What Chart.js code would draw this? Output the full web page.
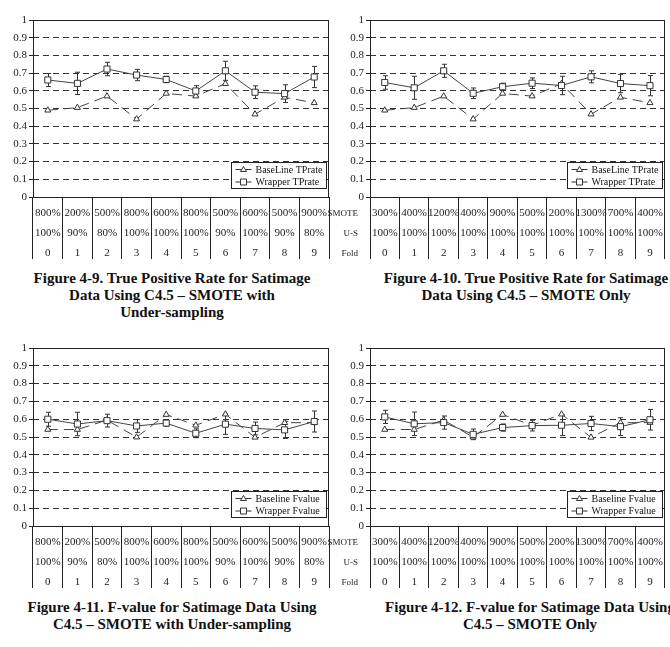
<!DOCTYPE html>
<html lang="en">
<head>
<meta charset="UTF-8">
<title>Satimage - C4.5 with SMOTE</title>
<style>
    html, body {
        margin: 0;
        padding: 0;
        background: #fff;
        overflow: hidden;
    }
    body {
        width: 670px;
        height: 647px;
        position: relative;
        font-family: "Liberation Serif", "Times New Roman", serif;
        color: #111;
    }
    .panel {
        position: absolute;
    }
    .panel canvas {
        display: block;
    }
    .caption {
        position: absolute;
        width: 380px;
        text-align: center;
        font-weight: bold;
        font-size: 15px;
        line-height: 17px;
        white-space: nowrap;
    }
    .rowlab {
        position: absolute;
        width: 40px;
        text-align: right;
        font-size: 9px;
        line-height: 10px;
        color: #222;
    }
</style>
</head>
<body>
    <div class="panel" style="left:0;top:0"><canvas id="fig9" width="335" height="263"></canvas></div>
    <div class="panel" style="left:335px;top:0"><canvas id="fig10" width="335" height="263"></canvas></div>
    <div class="panel" style="left:0;top:328px"><canvas id="fig11" width="335" height="263"></canvas></div>
    <div class="panel" style="left:335px;top:328px"><canvas id="fig12" width="335" height="263"></canvas></div>

    <div class="rowlab" style="left:318px;top:208px">SMOTE</div>
    <div class="rowlab" style="left:318px;top:228px">U-S</div>
    <div class="rowlab" style="left:318px;top:248px">Fold</div>
    <div class="rowlab" style="left:318px;top:537px">SMOTE</div>
    <div class="rowlab" style="left:318px;top:557px">U-S</div>
    <div class="rowlab" style="left:318px;top:577px">Fold</div>

    <div class="caption" style="left:-18px;top:270px">Figure 4-9. True Positive Rate for Satimage<br>Data Using C4.5 – SMOTE with<br>Under-sampling</div>
    <div class="caption" style="left:336px;top:270px">Figure 4-10. True Positive Rate for Satimage<br>Data Using C4.5 – SMOTE Only</div>
    <div class="caption" style="left:-18px;top:599px">Figure 4-11. F-value for Satimage Data Using<br>C4.5 – SMOTE with Under-sampling</div>
    <div class="caption" style="left:340px;top:599px">Figure 4-12. F-value for Satimage Data Using<br>C4.5 – SMOTE Only</div>

    <script src="https://cdn.jsdelivr.net/npm/chart.js"></script>
    <script>
        // fold table rows
        const folds = ['0', '1', '2', '3', '4', '5', '6', '7', '8', '9'];
        const smoteWithUS = ['800%', '200%', '500%', '800%', '600%', '800%', '500%', '600%', '500%', '900%'];
        const usWithUS = ['100%', '90%', '80%', '100%', '100%', '100%', '90%', '100%', '90%', '80%'];
        const smoteOnly = ['300%', '400%', '1200%', '400%', '900%', '500%', '200%', '1300%', '700%', '400%'];
        const usOnly = ['100%', '100%', '100%', '100%', '100%', '100%', '100%', '100%', '100%', '100%'];

        // TP rate
        const tpBaseline = [0.490, 0.505, 0.570, 0.440, 0.585, 0.570, 0.640, 0.468, 0.563, 0.532];
        const tpWrapperUS = [0.661, 0.642, 0.723, 0.689, 0.664, 0.599, 0.713, 0.592, 0.584, 0.678];
        const tpWrapperUSErr = [0.037, 0.063, 0.038, 0.032, 0.018, 0.030, 0.054, 0.036, 0.050, 0.060];
        const tpWrapperSO = [0.647, 0.617, 0.713, 0.586, 0.623, 0.643, 0.630, 0.679, 0.641, 0.629];
        const tpWrapperSOErr = [0.038, 0.065, 0.037, 0.030, 0.020, 0.030, 0.052, 0.034, 0.052, 0.057];

        // F-value
        const fBaseline = [0.542, 0.542, 0.595, 0.499, 0.626, 0.566, 0.628, 0.498, 0.580, 0.581];
        const fWrapperUS = [0.600, 0.573, 0.592, 0.562, 0.578, 0.521, 0.572, 0.548, 0.540, 0.587];
        const fWrapperUSErr = [0.039, 0.066, 0.036, 0.036, 0.018, 0.025, 0.057, 0.036, 0.048, 0.059];
        const fWrapperSO = [0.613, 0.574, 0.581, 0.515, 0.553, 0.564, 0.566, 0.576, 0.558, 0.597];
        const fWrapperSOErr = [0.037, 0.066, 0.037, 0.030, 0.020, 0.030, 0.058, 0.040, 0.050, 0.058];

        const yTicks = [0, 0.1, 0.2, 0.3, 0.4, 0.5, 0.6, 0.7, 0.8, 0.9, 1];

        const FONT = '"Liberation Serif", "Times New Roman", serif';
        const INK = '#333';

        // plot frame + error bars, drawn under the lines
        const frameAndBars = {
            id: 'frameAndBars',
            beforeDatasetsDraw(chart) {
                const { ctx, chartArea: a, scales: { y } } = chart;
                const L = Math.round(a.left) + 0.5, R = Math.round(a.right) - 0.5;
                const T = Math.round(a.top) + 0.5, B = Math.round(a.bottom) + 0.5;
                ctx.save();
                ctx.setLineDash([]);
                ctx.strokeStyle = '#222';
                ctx.lineWidth = 1;
                ctx.beginPath();
                ctx.moveTo(L, B); ctx.lineTo(L, T); ctx.lineTo(R, T); ctx.lineTo(R, B); ctx.lineTo(L, B);
                ctx.stroke();

                ctx.strokeStyle = INK;
                chart.data.datasets.forEach((ds, di) => {
                    if (!ds.errorBars) return;
                    chart.getDatasetMeta(di).data.forEach((pt, i) => {
                        const v = ds.data[i], e = ds.errorBars[i];
                        const x = Math.round(pt.x) + 0.5;
                        const y1 = y.getPixelForValue(v + e), y2 = y.getPixelForValue(v - e);
                        ctx.beginPath();
                        ctx.moveTo(x, y1); ctx.lineTo(x, y2);
                        ctx.moveTo(x - 2.5, y1); ctx.lineTo(x + 2.5, y1);
                        ctx.moveTo(x - 2.5, y2); ctx.lineTo(x + 2.5, y2);
                        ctx.stroke();
                    });
                });
                ctx.restore();
            }
        };

        // boxed legend in the lower right corner of the plot
        const boxLegend = {
            id: 'boxLegend',
            afterDraw(chart, args, opts) {
                const { ctx, chartArea: a } = chart;
                const w = 95, h = 26;
                const x0 = Math.round(a.right - 3 - w) + 0.5, y0 = Math.round(a.bottom - 9 - h) + 0.5;
                ctx.save();
                ctx.fillStyle = '#fff';
                ctx.fillRect(x0, y0, w, h);
                ctx.strokeStyle = '#222';
                ctx.lineWidth = 1;
                ctx.strokeRect(x0, y0, w, h);
                ctx.font = '10px ' + FONT;
                ctx.textBaseline = 'middle';
                opts.items.forEach((label, i) => {
                    const cy = y0 + 7 + i * 12.5;
                    ctx.strokeStyle = INK;
                    ctx.beginPath();
                    ctx.moveTo(x0 + 4, cy); ctx.lineTo(x0 + 20, cy);
                    ctx.stroke();
                    ctx.fillStyle = '#fff';
                    ctx.beginPath();
                    if (i === 0) {
                        ctx.moveTo(x0 + 12, cy - 3); ctx.lineTo(x0 + 15, cy + 2); ctx.lineTo(x0 + 9, cy + 2); ctx.closePath();
                    } else {
                        ctx.rect(x0 + 9, cy - 3, 6, 6);
                    }
                    ctx.fill();
                    ctx.stroke();
                    ctx.fillStyle = '#111';
                    ctx.fillText(label, x0 + 24, cy + 0.5);
                });
                ctx.restore();
            }
        };

        function makeChart(id, opt) {
            const labels = folds.map((f, i) => [opt.smote[i], opt.us[i], f]);
            return new Chart(document.getElementById(id), {
                type: 'line',
                data: {
                    labels: labels,
                    datasets: [{
                        label: opt.names[0],
                        data: opt.baseline,
                        borderColor: '#444',
                        borderWidth: 1,
                        borderDash: [10, 6],
                        pointStyle: 'triangle',
                        pointRadius: 3.5,
                        pointBackgroundColor: '#fff',
                        pointBorderColor: INK,
                        pointBorderWidth: 1,
                        tension: 0,
                        order: 1
                    }, {
                        label: opt.names[1],
                        data: opt.wrapper,
                        errorBars: opt.wrapperErr,
                        borderColor: '#444',
                        borderWidth: 1,
                        pointStyle: 'rect',
                        pointRadius: 4.3,
                        pointBackgroundColor: '#fff',
                        pointBorderColor: INK,
                        pointBorderWidth: 1,
                        tension: 0,
                        order: 0
                    }]
                },
                options: {
                    responsive: false,
                    animation: false,
                    events: [],
                    layout: {
                        padding: { top: 20, left: 0, right: opt.right, bottom: 263 - 20 - opt.plotH - 62 }
                    },
                    plugins: {
                        legend: { display: false },
                        tooltip: { enabled: false },
                        boxLegend: { items: opt.names }
                    },
                    scales: {
                        x: {
                            offset: true,
                            afterFit: (s) => { s.height = 62; },
                            grid: {
                                offset: true,
                                drawOnChartArea: false,
                                drawTicks: true,
                                tickLength: 62,
                                color: '#222',
                                lineWidth: 1
                            },
                            border: { display: false },
                            ticks: {
                                autoSkip: false,
                                maxRotation: 0,
                                padding: -56,
                                color: '#222',
                                font: { family: FONT, size: 11, lineHeight: 20 / 11 }
                            }
                        },
                        y: {
                            min: 0,
                            max: 1,
                            afterFit: (s) => { s.width = opt.axisW; },
                            afterBuildTicks: (s) => { s.ticks = yTicks.map(v => ({ value: v })); },
                            grid: {
                                color: '#333',
                                lineWidth: 1,
                                tickLength: 4,
                                tickColor: '#222'
                            },
                            border: { display: false, dash: [6, 4] },
                            ticks: {
                                padding: 2,
                                color: '#222',
                                font: { family: FONT, size: 11 },
                                callback: (v) => String(Math.round(v * 10) / 10)
                            }
                        }
                    }
                },
                plugins: [frameAndBars, boxLegend]
            });
        }

        makeChart('fig9', {
            smote: smoteWithUS, us: usWithUS,
            baseline: tpBaseline, wrapper: tpWrapperUS, wrapperErr: tpWrapperUSErr,
            names: ['BaseLine TPrate', 'Wrapper TPrate'],
            axisW: 33, right: 6, plotH: 177
        });
        makeChart('fig10', {
            smote: smoteOnly, us: usOnly,
            baseline: tpBaseline, wrapper: tpWrapperSO, wrapperErr: tpWrapperSOErr,
            names: ['BaseLine TPrate', 'Wrapper TPrate'],
            axisW: 35, right: 4, plotH: 177
        });
        makeChart('fig11', {
            smote: smoteWithUS, us: usWithUS,
            baseline: fBaseline, wrapper: fWrapperUS, wrapperErr: fWrapperUSErr,
            names: ['Baseline Fvalue', 'Wrapper Fvalue'],
            axisW: 33, right: 6, plotH: 178
        });
        makeChart('fig12', {
            smote: smoteOnly, us: usOnly,
            baseline: fBaseline, wrapper: fWrapperSO, wrapperErr: fWrapperSOErr,
            names: ['Baseline Fvalue', 'Wrapper Fvalue'],
            axisW: 35, right: 4, plotH: 178
        });
    </script>
</body>
</html>
